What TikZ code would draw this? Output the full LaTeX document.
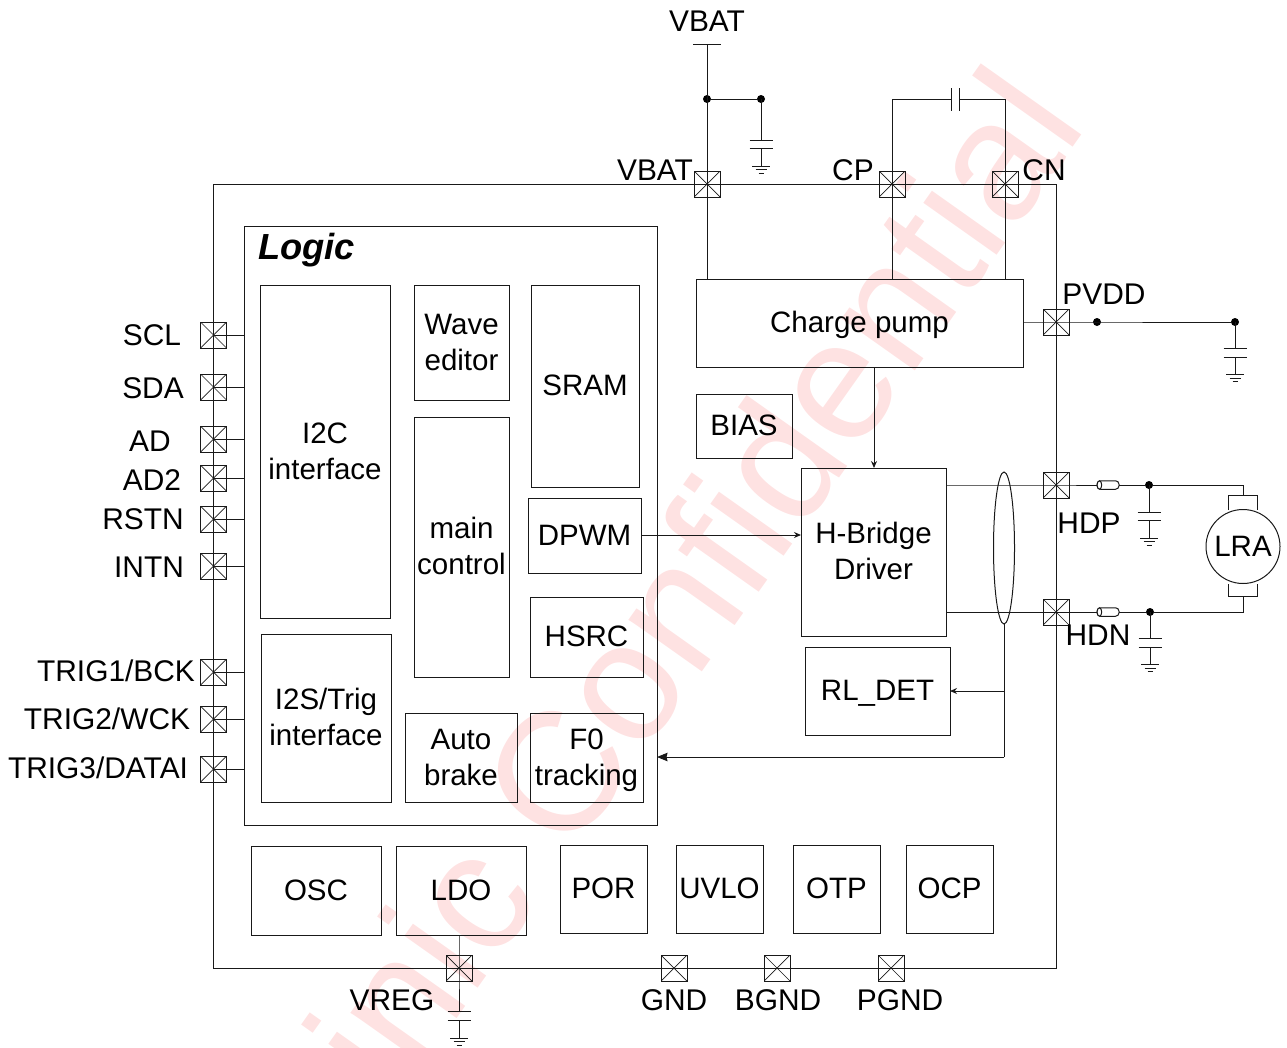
\documentclass[tikz,border=0pt]{standalone}
\usepackage{fontspec}
\setmainfont{Liberation Sans}
\usetikzlibrary{arrows.meta,calc,shapes.geometric}
\definecolor{wm}{RGB}{254,226,226}
\definecolor{ln}{RGB}{25,25,25}
\tikzset{
 wire/.style={draw=ln,line width=1pt},
 blk/.style={draw=ln,line width=1pt,inner sep=0pt,outer sep=0pt,align=center,font=\fontsize{29.5}{36}\selectfont},
 lbl/.style={inner sep=0pt,outer sep=0pt,anchor=base,font=\fontsize{29.9}{36}\selectfont,text=black},
 pad/.style={draw=ln,line width=1pt,minimum size=26pt,inner sep=0pt,outer sep=0pt,
   path picture={\draw[ln,line width=.7pt] (path picture bounding box.north west)--(path picture bounding box.south east)
     (path picture bounding box.north east)--(path picture bounding box.south west);}},
 jdot/.style={circle,fill=black,minimum size=8pt,inner sep=0pt,outer sep=0pt},
 arr/.style={wire,-{Stealth[length=7pt,width=6pt]}},
}
\newcommand\topst{\rule{0pt}{28pt}}
\newcommand\botst{\rule[-9pt]{0pt}{9pt}}
\newcommand\blk[6]{\node[blk,minimum width={(#4-#2)*1pt},minimum height={(#5-#3)*1pt}] (#1) at ({(#2+#4)/2},{(#3+#5)/2}) {\topst #6\botst};}
\newcommand\frm[5]{\node[blk,minimum width={(#4-#2)*1pt},minimum height={(#5-#3)*1pt}] (#1) at ({(#2+#4)/2},{(#3+#5)/2}) {};}
\newcommand\lbl[4]{\node[lbl] (#1) at (#2,{#3+10.5}) {#4};}
\newcommand\pad[3]{\node[pad] (#1) at (#2,#3) {};}
\newcommand\gndsym[2]{\draw[wire] (#1-9,#2)--(#1+9,#2) (#1-5.5,#2+3.7)--(#1+5.5,#2+3.7) (#1-2.5,#2+7.4)--(#1+2.5,#2+7.4);}
% vertical cap + ground hanging from (#1,#2), top plate at #3
\newcommand\capgnd[3]{\draw[wire] (#1,#2)--(#1,#3) (#1-11.5,#3)--(#1+11.5,#3) (#1-11.5,#3+8.7)--(#1+11.5,#3+8.7) (#1,#3+8.7)--(#1,#3+26);\gndsym{#1}{#3+26}}
\newcommand\fuse[3]{\node[draw=ln,fill=white,line width=1pt,rounded corners=3.5pt,minimum width=22pt,minimum height=8.5pt,inner sep=0pt,outer sep=0pt] (#1) at (#2,#3) {};
 \draw[wire,fill=white] (#2-8.6,#3) ellipse (2.3 and 4.2);}
\begin{document}
\begin{tikzpicture}[x=1pt,y=-1pt]
\useasboundingbox (0,0) rectangle (1287,1047);
\begin{scope}
\clip (0,0) rectangle (1287,1047);
\node[anchor=base east,rotate=54.7,inner sep=0pt,text=wm,font=\fontsize{170}{180}\selectfont] (wmark) at (1089,125.6) {inic Confidential};
\end{scope}
% chip outline and logic block
\frm{chip}{213.5}{184}{1056}{968}
\frm{logic}{244}{226}{657}{825}
\node[lbl,font=\fontsize{36.3}{40}\selectfont\bfseries\itshape] (logictitle) at (306.5,259.5) {Logic};
\blk{itc}{260}{285}{390}{618}{I2C\\interface}
\blk{wave}{414}{285}{509}{400}{Wave\\editor}
\blk{sram}{531}{285}{639}{487}{SRAM}
\blk{main}{414}{417}{509}{677}{main\\control}
\blk{dpwm}{528}{498}{641}{573}{DPWM}
\blk{hsrc}{530}{597}{643}{677}{HSRC}
\blk{its}{261}{634}{391}{802}{I2S/Trig\\interface}
\blk{auto}{405}{713}{517}{802}{Auto\\brake}
\blk{fzero}{530}{713}{643}{802}{F0\\tracking}
\blk{osc}{251}{846}{381}{935}{OSC}
\blk{ldo}{396}{846}{526}{935}{LDO}
\blk{por}{560}{845}{647}{933}{POR}
\blk{uvlo}{676}{845}{763}{933}{UVLO}
\blk{otp}{793}{845}{880}{933}{OTP}
\blk{ocp}{906}{845}{993}{933}{OCP}
\blk{pump}{696}{279}{1023}{367}{Charge pump}
\blk{bias}{696}{394}{792}{458}{BIAS}
\blk{hb}{801}{468}{946}{636}{H-Bridge\\Driver}
\blk{rl}{805}{647}{950}{735}{RL\_DET}
% pads
\pad{pvbat}{707}{184}\pad{pcp}{892}{184}\pad{pcn}{1005}{184}
\pad{ppvdd}{1056}{322}\pad{phdp}{1056}{485}\pad{phdn}{1056}{612}
\pad{pscl}{213.5}{335}\pad{psda}{213.5}{387}\pad{pad}{213.5}{439}\pad{padt}{213.5}{478}
\pad{prstn}{213.5}{519}\pad{pintn}{213.5}{566}\pad{ptra}{213.5}{672}\pad{ptrb}{213.5}{719}\pad{ptrc}{213.5}{769}
\pad{pvreg}{459}{968}\pad{pgnd}{674}{968}\pad{pbgnd}{777}{968}\pad{ppgnd}{891}{968}
% left stubs
\foreach \p in {pscl,psda,pad,padt,prstn,pintn,ptra,ptrb,ptrc}{\draw[wire] (\p.center)--(\p.center -| logic.west);}
% labels
\lbl{lvt}{707}{21}{VBAT}\lbl{lvb}{655}{170}{VBAT}\lbl{lcp}{853}{170}{CP}\lbl{lcn}{1044}{170}{CN}
\lbl{lpv}{1104}{294}{PVDD}\lbl{lhp}{1089}{523}{HDP}\lbl{lhn}{1098}{635}{HDN}
\lbl{lsc}{152}{335}{SCL}\lbl{lsd}{153}{388}{SDA}\lbl{lad}{150}{441}{AD}\lbl{lat}{152}{480}{AD2}
\lbl{lrs}{143}{519}{RSTN}\lbl{lin}{149}{567}{INTN}
\lbl{lta}{116}{671}{TRIG1/BCK}\lbl{ltb}{107}{719}{TRIG2/WCK}\lbl{ltc}{98}{768}{TRIG3/DATAI}
\lbl{lvr}{392}{1000}{VREG}\lbl{lgn}{674}{1000}{GND}\lbl{lbg}{778}{1000}{BGND}\lbl{lpg}{900}{1000}{PGND}
% VBAT supply
\coordinate (vtop) at (707,44);
\draw[wire] (693,44)--(721,44);
\node[jdot] (dv) at (707,99) {};
\node[jdot] (dc) at (761,99) {};
\draw[wire] (vtop)--(pvbat.center)--(pvbat.center |- pump.north);
\draw[wire] (dv)--(dc);
\capgnd{761}{99}{140}
% flying cap
\coordinate (ca) at (951,99);\coordinate (cb) at (959.5,99);
\draw[wire] (pcp.center |- pump.north)--(pcp.center)--(pcp.center |- ca)--(ca);
\draw[wire] (pcn.center |- pump.north)--(pcn.center)--(pcn.center |- cb)--(cb);
\draw[wire] (951,88)--(951,111) (959.5,88)--(959.5,111);
% PVDD
\node[jdot] (dp) at (1097,322) {};
\node[jdot] (dq) at (1235,322) {};
\draw[wire] (ppvdd -| pump.east)--(ppvdd.center)--(dq);
\capgnd{1235}{322}{348.5}
% H-bridge outputs
\coordinate (lraT) at (1243,495);\coordinate (lraB) at (1243,596);
\fuse{fa}{1108}{485}
\fuse{fb}{1108}{612}
\node[jdot] (dh) at (1149,485) {};
\node[jdot] (dn) at (1150,612) {};
\draw[wire] (hb.east |- phdp)--(phdp.center)--(fa.west);
\draw[wire] (fa.east)--(dh)--(dh -| lraT)--(lraT);
\draw[wire] (hb.east |- phdn)--(phdn.center)--(fb.west);
\draw[wire] (fb.east)--(dn)--(dn -| lraB)--(lraB);
\capgnd{1149}{485}{512}
\capgnd{1150}{612}{638.5}
% motor
\draw[wire] (1228.5,510)--(1228.5,495)--(1257.5,495)--(1257.5,510);
\draw[wire] (1228.5,584)--(1228.5,596)--(1257.5,596)--(1257.5,584);
\node[circle,draw=ln,fill=white,line width=1pt,minimum size=74pt,inner sep=0pt,font=\fontsize{29.5}{36}\selectfont] (lra) at (1243,546.5) {LRA};
% sense
\node[ellipse,draw=ln,line width=1pt,minimum width=21pt,minimum height=152pt,inner sep=0pt,outer sep=0pt] (sense) at (1004,548) {};
\coordinate (jr) at (1004,691);
\coordinate (jf) at (1004,757);
\draw[wire] (sense.south)--(jf);
\draw[wire,-{Stealth[length=10.5pt,width=8.5pt,inset=1pt]}] (jf)--(jf -| logic.east);
\draw[arr] (jr)--(jr -| rl.east);
% arrows
\coordinate (hbin) at (801,535);
\draw[arr] (hbin -| dpwm.east)--(hbin);
\coordinate (pd) at (874,367);
\draw[arr] (pd)--(pd |- hb.north);
% VREG
\coordinate (vc) at (459,1011);
\draw[wire] (pvreg.center |- ldo.south)--(pvreg.center)--(vc);
\draw[wire] (447.5,1011)--(470.5,1011) (447.5,1020)--(470.5,1020) (459,1020)--(459,1038);
\gndsym{459}{1038}
\end{tikzpicture}
\end{document}
